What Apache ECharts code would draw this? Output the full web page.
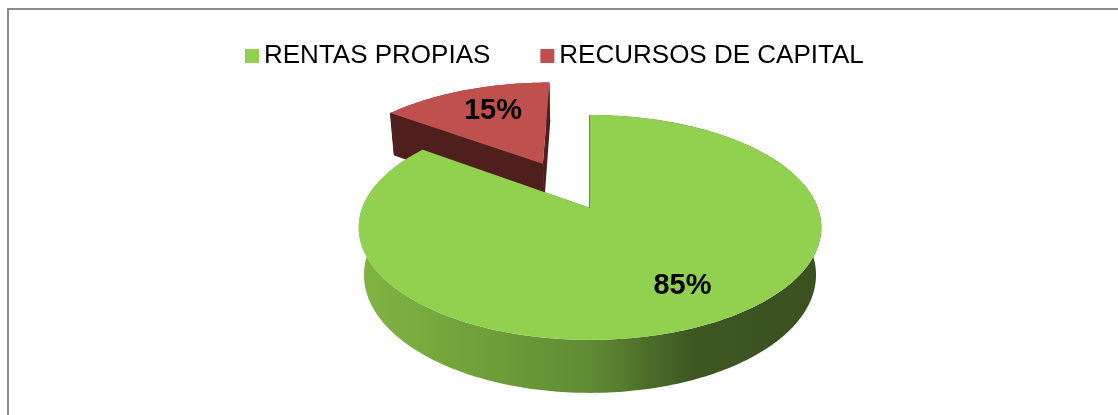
<!DOCTYPE html>
<html>
<head>
<meta charset="utf-8">
<script src="https://cdn.jsdelivr.net/npm/echarts@6/dist/echarts.min.js"></script>
<style>
html, body { margin: 0; padding: 0; background: #fff; }
#chart { width: 1118px; height: 415px; }
</style>
</head>
<body>
<div id="chart"></div>
<script>
// datos
var categories = ['RENTAS PROPIAS', 'RECURSOS DE CAPITAL'];
var values = [85, 15];
var pctLabels = ['85%', '15%'];

var total = values.reduce(function (a, b) { return a + b; }, 0);

// estilos por porcion
var topColors = ['#92d050', '#c0504d'];
var cutColors = ['#3d5a22', '#4f1f1e'];
var explode = [0, 0.49];
var labelRadius = [0.74, 0.66];
var labelShift = [[6, -3], [4, -2]];

// proyeccion 3d sencilla (disco de radio 1)
var cx = 590, cy = 208, focal = 1155, dist = 5.07, thick = 0.24;
var tilt = 28.6 * Math.PI / 180;
var cosT = Math.cos(tilt), sinT = Math.sin(tilt);

function project(x, z, h) {
    var yc = h * cosT + z * sinT;
    var depth = dist + z * cosT - h * sinT;
    return [cx + focal * x / depth, cy - focal * yc / depth];
}

var wallFills = [
    {
        type: 'linear', x: 362, y: 0, x2: 822, y2: 0, global: true,
        colorStops: [
            { offset: 0, color: '#80b442' },
            { offset: 0.15, color: '#77a93d' },
            { offset: 0.5, color: '#5f8b33' },
            { offset: 0.72, color: '#3d5622' },
            { offset: 1, color: '#3a5120' }
        ]
    },
    '#7a2f2d'
];

function makeRender(i) {
    return function (params, api) {
        var v = api.value(0);
        var before = 0;
        for (var k = 0; k < i; k++) before += values[k];
        var a1 = before / total * 360;
        var a2 = (before + v) / total * 360;
        var mid = (a1 + a2) / 2 * Math.PI / 180;
        var ox = explode[i] * Math.sin(mid), oz = explode[i] * Math.cos(mid);

        function pt(deg, r, h) {
            var a = deg * Math.PI / 180;
            return project(ox + r * Math.sin(a), oz + r * Math.cos(a), h);
        }

        var n = Math.ceil(a2 - a1);
        var topArc = [], botArc = [];
        for (var j = 0; j <= n; j++) {
            var d = a1 + (a2 - a1) * j / n;
            topArc.push(pt(d, 1, 0));
            botArc.push(pt(d, 1, -thick));
        }
        var wall = topArc.concat(botArc.slice().reverse());
        var topFace = [pt(0, 0, 0)].concat(topArc);
        var lp = pt((a1 + a2) / 2, labelRadius[i], 0);

        return {
            type: 'group',
            children: [
                { type: 'polygon', shape: { points: wall }, style: { fill: wallFills[i] } },
                { type: 'polygon', shape: { points: [pt(a1, 0, 0), pt(a1, 1, 0), pt(a1, 1, -thick), pt(a1, 0, -thick)] }, style: { fill: cutColors[i], stroke: cutColors[i], lineWidth: 1 } },
                { type: 'polygon', shape: { points: [pt(a2, 0, 0), pt(a2, 1, 0), pt(a2, 1, -thick), pt(a2, 0, -thick)] }, style: { fill: cutColors[i] } },
                { type: 'polygon', shape: { points: topFace }, style: { fill: topColors[i] } },
                {
                    type: 'text', x: lp[0] + labelShift[i][0], y: lp[1] + labelShift[i][1],
                    style: {
                        text: pctLabels[i], fill: '#000', align: 'center', verticalAlign: 'middle',
                        font: 'bold 29px "Liberation Sans", Arial, sans-serif'
                    }
                }
            ]
        };
    };
}

var chart = echarts.init(document.getElementById('chart'));

var series = categories.map(function (name, i) {
    return {
        type: 'custom',
        name: name,
        coordinateSystem: 'none',
        z: i === 0 ? 3 : 2,
        itemStyle: { color: topColors[i] },
        renderItem: makeRender(i),
        data: [values[i]]
    };
});

chart.setOption({
    animation: false,
    backgroundColor: '#fff',
    legend: {
        data: categories,
        left: 240,
        top: 38,
        icon: 'rect',
        itemWidth: 14,
        itemHeight: 14,
        itemGap: 50,
        textStyle: { fontSize: 26, color: '#000', fontFamily: '"Liberation Sans", Arial, sans-serif' }
    },
    graphic: [
        { type: 'line', shape: { x1: 7, y1: 9, x2: 1118, y2: 9 }, style: { stroke: '#8c8c8c', lineWidth: 2 } },
        { type: 'line', shape: { x1: 8, y1: 9, x2: 8, y2: 415 }, style: { stroke: '#8c8c8c', lineWidth: 2 } }
    ],
    series: series
});
</script>
</body>
</html>
